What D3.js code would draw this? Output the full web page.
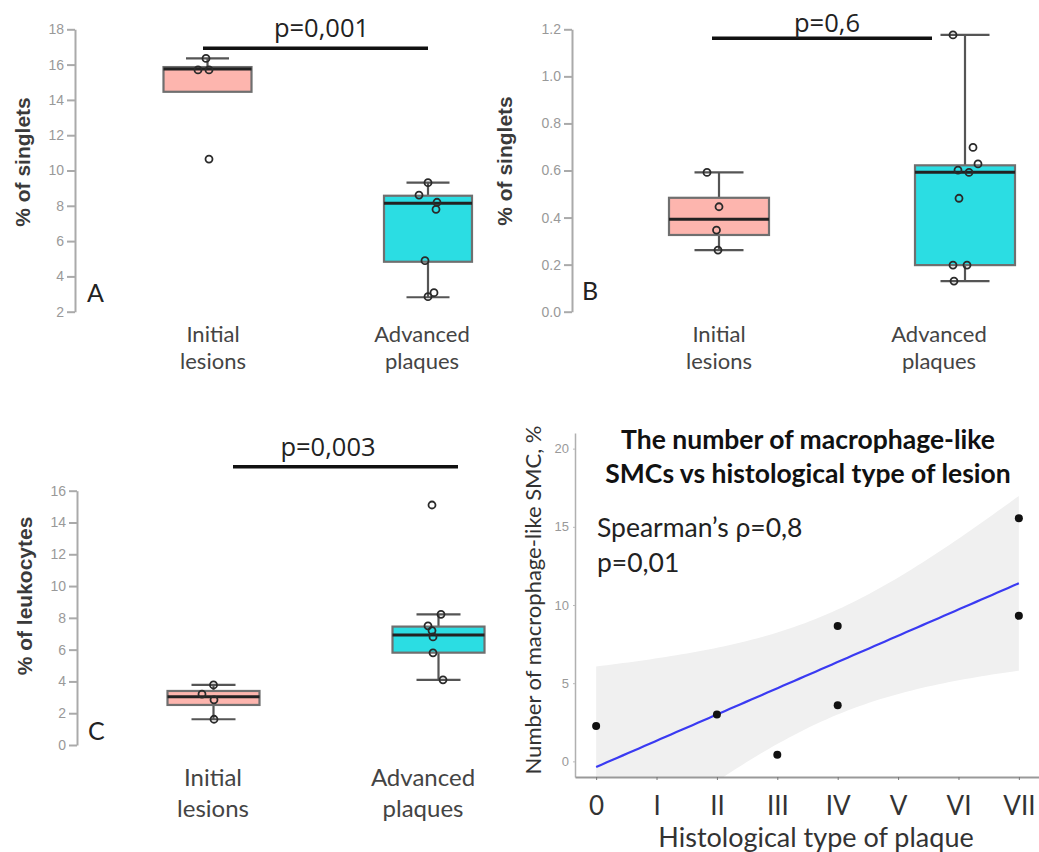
<!DOCTYPE html>
<html>
<head>
<meta charset="utf-8">
<script src="https://cdn.jsdelivr.net/npm/d3@7"></script>
<style>
body{margin:0;background:#fff}
</style>
</head>
<body>
<svg id="chart"></svg>
<script>

var groups = ["Initial lesions", "Advanced plaques"]
var boxFills = ["#fdb5ae", "#2bdde3"]

// A - % of singlets
var singletsA = [[16.35, 15.7, 15.7, 10.65], [9.31, 8.61, 8.2, 7.8, 4.89, 3.08, 2.85]]
var jitterA = [[-1.5, -9.5, 1.5, 1.5], [0, -9, 9, 8, -3, 6, 0]]
var statsA = [{lo: 15.7, q1: 14.46, med: 15.75, q3: 15.86, hi: 16.35},
              {lo: 2.82, q1: 4.83, med: 8.14, q3: 8.57, hi: 9.31}]
var ticksA = [2, 4, 6, 8, 10, 12, 14, 16, 18]

// B - % of singlets
var singletsB = [[0.592, 0.446, 0.347, 0.262], [1.176, 0.698, 0.628, 0.602, 0.592, 0.482, 0.198, 0.198, 0.13]]
var jitterB = [[-12, 0, -2.5, -1], [-12, 8, 13, -7, 4, -6, -12, 2, -11]]
var statsB = [{lo: 0.262, q1: 0.326, med: 0.393, q3: 0.484, hi: 0.592},
              {lo: 0.13, q1: 0.198, med: 0.593, q3: 0.622, hi: 1.176}]
var ticksB = [0, 0.2, 0.4, 0.6, 0.8, 1.0, 1.2]

// C - % of leukocytes
var leukoC = [[3.78, 3.2, 2.84, 1.62], [8.22, 7.5, 7.2, 6.8, 5.8, 4.1, 15.1]]
var jitterC = [[0, -11.5, 0.5, 0.5], [2.5, -10.5, -6.5, -5.5, -5.5, 4.5, -6.5]]
var statsC = [{lo: 1.62, q1: 2.52, med: 3.04, q3: 3.4, hi: 3.78},
              {lo: 4.1, q1: 5.81, med: 6.92, q3: 7.45, hi: 8.22}]
var ticksC = [0, 2, 4, 6, 8, 10, 12, 14, 16]

// D - macrophage-like SMC vs histological type
var typeLabels = ["0", "I", "II", "III", "IV", "V", "VI", "VII"]
var smcType = [0, 2, 3, 4, 4, 7, 7]
var smcValue = [2.26, 3.0, 0.43, 8.66, 3.59, 15.55, 9.31]
var ticksD = [0, 5, 10, 15, 20]

var svg = d3.select("#chart")
  .attr("width", 1039)
  .attr("height", 852)

var drawBoxPanel = function(p){
  var g = svg.append("g")
  var y = d3.scaleLinear().domain(p.domain).range(p.yRange)
  var x = d3.scalePoint().domain(groups).range(p.xRange)
  var lx = d3.scalePoint().domain(groups).range(p.labelRange)

  var yAxis = d3.axisLeft(y)
    .tickValues(p.ticks)
    .tickSize(8)
    .tickSizeOuter(0)
    .tickPadding(3)
    .tickFormat(p.fmt)
  var ax = g.append("g")
    .attr("transform", "translate(" + p.axisX + ",0)")
    .call(yAxis)
  ax.select(".domain").attr("stroke", "#aaa").attr("stroke-width", 2)
  ax.selectAll(".tick line").attr("stroke", "#aaa").attr("stroke-width", 2)
  ax.selectAll(".tick text")
    .attr("fill", "#999")
    .attr("font-size", 14)
    .attr("font-family", "Liberation Sans, Arial, sans-serif")

  g.append("text")
    .attr("transform", "translate(" + p.ylab.x + "," + p.ylab.y + ") rotate(-90)")
    .attr("text-anchor", "middle")
    .attr("font-family", "Liberation Sans, Arial, sans-serif")
    .attr("font-weight", "bold")
    .attr("font-size", 21)
    .attr("fill", "#3a3a3a")
    .text(p.ylab.text)

  groups.forEach(function(grp, i){
    var s = p.stats[i]
    var cx = x(grp)
    // whiskers + caps
    g.append("line").attr("x1", cx).attr("x2", cx).attr("y1", y(s.hi)).attr("y2", y(s.q3))
      .attr("stroke", "#555").attr("stroke-width", 2.2)
    g.append("line").attr("x1", cx).attr("x2", cx).attr("y1", y(s.lo)).attr("y2", y(s.q1))
      .attr("stroke", "#555").attr("stroke-width", 2.2)
    ;[s.hi, s.lo].forEach(function(v){
      g.append("line")
        .attr("x1", cx - p.capHalf).attr("x2", cx + p.capHalf)
        .attr("y1", y(v)).attr("y2", y(v))
        .attr("stroke", "#555").attr("stroke-width", 2.2)
    })
    g.append("rect")
      .attr("x", cx - p.boxHalf)
      .attr("y", y(s.q3))
      .attr("width", p.boxHalf * 2)
      .attr("height", y(s.q1) - y(s.q3))
      .attr("fill", boxFills[i])
      .attr("stroke", "#6f6f6f")
      .attr("stroke-width", 2.2)
    g.append("line")
      .attr("x1", cx - p.boxHalf).attr("x2", cx + p.boxHalf)
      .attr("y1", y(s.med)).attr("y2", y(s.med))
      .attr("stroke", "#222").attr("stroke-width", 3)

    g.selectAll(".pt" + i)
      .data(p.values[i])
      .enter()
      .append("circle")
      .attr("cx", function(d, j){ return cx + p.jitter[i][j] })
      .attr("cy", function(d){ return y(d) })
      .attr("r", 3.5)
      .attr("fill", "none")
      .attr("stroke", "#2a2a2a")
      .attr("stroke-width", 1.8)

    // two-line category label, one text per line
    grp.split(" ").forEach(function(w, k){
      g.append("text")
        .attr("x", lx(grp))
        .attr("y", p.labelY[k])
        .attr("text-anchor", "middle")
        .attr("font-family", "Lato, sans-serif")
        .attr("font-size", p.labelSize)
        .attr("fill", "#444")
        .text(w)
    })
  })

  g.append("line")
    .attr("x1", p.sig.x1).attr("x2", p.sig.x2)
    .attr("y1", p.sig.y).attr("y2", p.sig.y)
    .attr("stroke", "#111").attr("stroke-width", 3.5)
  g.append("text")
    .attr("x", p.sig.tx).attr("y", p.sig.ty)
    .attr("text-anchor", "middle")
    .attr("font-family", "Open Sans, sans-serif")
    .attr("font-size", 25.5)
    .attr("fill", "#222")
    .text(p.sig.text)

  g.append("text")
    .attr("x", p.letter.x).attr("y", p.letter.y)
    .attr("font-family", "Lato, sans-serif")
    .attr("font-size", 25)
    .attr("fill", "#222")
    .text(p.letter.text)
}

drawBoxPanel({
  values: singletsA, jitter: jitterA, stats: statsA, ticks: ticksA, fmt: d3.format("d"),
  domain: [2, 18], yRange: [311.7, 29.3], axisX: 75,
  xRange: [207.5, 428], boxHalf: 44, capHalf: 21.5,
  labelRange: [213, 422], labelY: [342, 368.5], labelSize: 22,
  sig: {x1: 203, x2: 428, y: 48.3, tx: 321.5, ty: 37, text: "p=0,001"},
  letter: {x: 87, y: 302, text: "A"},
  ylab: {x: 30, y: 162, text: "% of singlets"}
})

drawBoxPanel({
  values: singletsB, jitter: jitterB, stats: statsB, ticks: ticksB, fmt: d3.format(".1f"),
  domain: [0, 1.2], yRange: [311.7, 29.3], axisX: 572,
  xRange: [719, 965], boxHalf: 50, capHalf: 24.5,
  labelRange: [719, 939], labelY: [342, 368.5], labelSize: 22,
  sig: {x1: 712, x2: 932, y: 38.3, tx: 827, ty: 31.7, text: "p=0,6"},
  letter: {x: 582, y: 300, text: "B"},
  ylab: {x: 512, y: 161, text: "% of singlets"}
})

drawBoxPanel({
  values: leukoC, jitter: jitterC, stats: statsC, ticks: ticksC, fmt: d3.format("d"),
  domain: [0, 16], yRange: [745, 490.7], axisX: 77,
  xRange: [213.5, 438.5], boxHalf: 46, capHalf: 22,
  labelRange: [213, 423], labelY: [786, 817], labelSize: 24,
  sig: {x1: 233, x2: 458, y: 466.7, tx: 328, ty: 456, text: "p=0,003"},
  letter: {x: 88, y: 740, text: "C"},
  ylab: {x: 32, y: 596, text: "% of leukocytes"}
})

// ---- panel D: scatter + linear fit with 95% CI
var xD = d3.scaleLinear().domain([-0.35, 7.35]).range([575, 1040])
var yD = d3.scaleLinear().domain([-1, 21]).range([777, 433])
var gD = svg.append("g")

gD.append("clipPath").attr("id", "clipD")
  .append("rect").attr("x", 575).attr("y", 433).attr("width", 465).attr("height", 344)

var n = smcType.length
var mx = d3.mean(smcType), my = d3.mean(smcValue)
var sxx = d3.sum(smcType, function(v){ return (v - mx) * (v - mx) })
var sxy = d3.sum(smcType, function(v, i){ return (v - mx) * (smcValue[i] - my) })
var slope = sxy / sxx
var icpt = my - slope * mx
var sse = d3.sum(smcType, function(v, i){ var r = smcValue[i] - (icpt + slope * v); return r * r })
var sres = Math.sqrt(sse / (n - 2))
var tcrit = 2.571
var fit = d3.range(0, 80).map(function(k){
  var xv = 7 * k / 79
  var se = sres * Math.sqrt(1 / n + (xv - mx) * (xv - mx) / sxx)
  var yv = icpt + slope * xv
  return {x: xv, y: yv, lo: yv - tcrit * se, hi: yv + tcrit * se}
})

gD.append("path")
  .datum(fit)
  .attr("clip-path", "url(#clipD)")
  .attr("fill", "#f0f0f0")
  .attr("d", d3.area()
    .x(function(d){ return xD(d.x) })
    .y0(function(d){ return yD(d.lo) })
    .y1(function(d){ return yD(d.hi) }))

gD.append("path")
  .datum(fit)
  .attr("fill", "none")
  .attr("stroke", "#3a3af2")
  .attr("stroke-width", 2.2)
  .attr("d", d3.line()
    .x(function(d){ return xD(d.x) })
    .y(function(d){ return yD(d.y) }))

gD.selectAll(".smc")
  .data(smcValue)
  .enter()
  .append("circle")
  .attr("cx", function(d, i){ return xD(smcType[i]) })
  .attr("cy", function(d){ return yD(d) })
  .attr("r", 4)
  .attr("fill", "#111")

var yAxisD = d3.axisLeft(yD).tickValues(ticksD).tickSize(2).tickSizeOuter(0).tickPadding(4)
var axD = gD.append("g").attr("transform", "translate(575,0)").call(yAxisD)
axD.select(".domain").attr("stroke", "#b0b0b0").attr("stroke-width", 1.5)
axD.selectAll(".tick line").attr("stroke", "#bbb")
axD.selectAll(".tick text")
  .attr("fill", "#999")
  .attr("font-size", 13)
  .attr("font-family", "Liberation Sans, Arial, sans-serif")

var xAxisD = d3.axisBottom(xD)
  .tickValues(d3.range(typeLabels.length))
  .tickFormat(function(i){ return typeLabels[i] })
  .tickSize(3)
  .tickSizeOuter(0)
  .tickPadding(17)
var axX = gD.append("g").attr("transform", "translate(0,777)").call(xAxisD)
axX.select(".domain").attr("stroke", "#999").attr("stroke-width", 2)
axX.selectAll(".tick line").attr("stroke", "#777")
axX.selectAll(".tick text")
  .attr("fill", "#333")
  .attr("font-size", 26)
  .attr("font-family", "Lato, sans-serif")

gD.append("text")
  .attr("x", 816).attr("y", 847)
  .attr("text-anchor", "middle")
  .attr("font-family", "Lato, sans-serif")
  .attr("font-size", 27)
  .attr("fill", "#333")
  .text("Histological type of plaque")

gD.append("text")
  .attr("transform", "translate(541,600) rotate(-90)")
  .attr("text-anchor", "middle")
  .attr("font-family", "Lato, sans-serif")
  .attr("font-size", 22)
  .attr("fill", "#333")
  .text("Number of macrophage-like SMC, %")

var titleLines = ["The number of macrophage-like", "SMCs vs histological type of lesion"]
gD.selectAll(".title")
  .data(titleLines)
  .enter()
  .append("text")
  .attr("x", 808)
  .attr("y", function(d, i){ return 449 + i * 34 })
  .attr("text-anchor", "middle")
  .attr("font-family", "Lato, sans-serif")
  .attr("font-weight", "bold")
  .attr("font-size", 26.5)
  .attr("fill", "#111")
  .text(function(d){ return d })

var statLines = ["Spearman\u2019s \u03c1=0,8", "p=0,01"]
gD.selectAll(".stat")
  .data(statLines)
  .enter()
  .append("text")
  .attr("x", 597)
  .attr("y", function(d, i){ return 537 + i * 35 })
  .attr("font-family", "Lato, sans-serif")
  .attr("font-size", 26.5)
  .attr("fill", "#222")
  .text(function(d){ return d })

</script>
</body>
</html>
